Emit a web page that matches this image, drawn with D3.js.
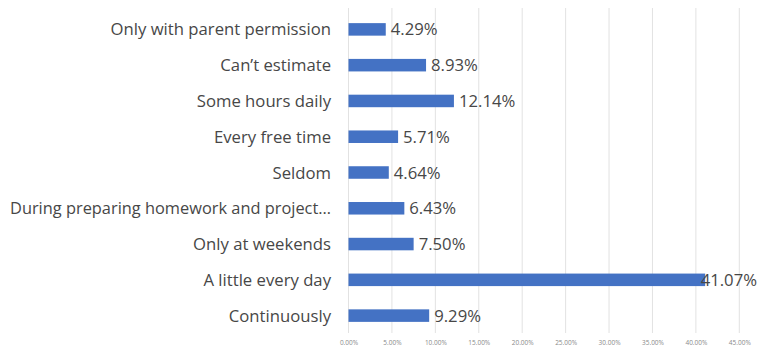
<!DOCTYPE html>
<html>
<head>
<meta charset="utf-8">
<script src="https://cdn.jsdelivr.net/npm/d3@7"></script>
<style>
  html, body { margin: 0; padding: 0; background: #fff; }
  svg { display: block; }
</style>
</head>
<body>
<svg id="chart" width="761" height="347"></svg>
<script>
// Categories top to bottom, with their shares in percent
const categories = [
  "Only with parent permission",
  "Can\u2019t estimate",
  "Some hours daily",
  "Every free time",
  "Seldom",
  "During preparing homework and project\u2026",
  "Only at weekends",
  "A little every day",
  "Continuously"
];
const values = [4.29, 8.93, 12.14, 5.71, 4.64, 6.43, 7.50, 41.07, 9.29];
const tickValues = [0, 5, 10, 15, 20, 25, 30, 35, 40, 45];

const svg = d3.select("#chart");
const margin = { left: 348.5, right: 21.7, top: 11.5, bottom: 13.5 };
const W = 761, H = 347;
const font = "Open Sans, sans-serif";
const labelSize = 16.7;
const textColor = "#474747";
const labelRight = 331;
const labelMaxWidth = 321;

const x = d3.scaleLinear().domain([0, 45]).range([margin.left, W - margin.right]);
const y = d3.scaleBand().domain(categories).range([margin.top, H - margin.bottom]).paddingInner(0.65).paddingOuter(0.325);

// vertical gridlines
svg.append("g")
  .selectAll("line")
  .data(tickValues)
  .join("line")
  .attr("x1", d => x(d)).attr("x2", d => x(d))
  .attr("y1", 8).attr("y2", 333)
  .attr("stroke", "#e2e2e2")
  .attr("stroke-width", 1);

// bottom axis tick labels
const xAxis = d3.axisBottom(x).tickValues(tickValues).tickSize(0).tickFormat(d => d.toFixed(2) + "%");
const ax = svg.append("g").attr("transform", `translate(0,${337})`).call(xAxis);
ax.select(".domain").remove();
ax.selectAll("text")
  .attr("fill", "#8a8a8a")
  .attr("font-family", font)
  .attr("font-size", 6.5);

// bars
svg.append("g")
  .selectAll("rect")
  .data(values)
  .join("rect")
  .attr("x", x(0))
  .attr("y", (d, i) => y(categories[i]))
  .attr("width", d => x(d) - x(0))
  .attr("height", y.bandwidth())
  .attr("fill", "#4472c4");

// value labels, kept inside the drawing area
svg.append("g")
  .selectAll("text")
  .data(values)
  .join("text")
  .attr("y", (d, i) => y(categories[i]) + y.bandwidth() / 2)
  .attr("dy", "0.36em")
  .attr("fill", textColor)
  .attr("font-family", font)
  .attr("font-size", labelSize)
  .text(d => d.toFixed(2) + "%")
  .attr("x", function (d) {
    const w = this.getComputedTextLength();
    return Math.min(x(d) + 5, W - 4 - w);
  });

// category labels, squeezed when longer than the label column
svg.append("g")
  .selectAll("text")
  .data(categories)
  .join("text")
  .attr("x", labelRight)
  .attr("y", d => y(d) + y.bandwidth() / 2)
  .attr("dy", "0.36em")
  .attr("text-anchor", "end")
  .attr("fill", textColor)
  .attr("font-family", font)
  .attr("font-size", labelSize)
  .text(d => d)
  .each(function () {
    if (this.getComputedTextLength() > labelMaxWidth) {
      d3.select(this).attr("textLength", labelMaxWidth).attr("lengthAdjust", "spacingAndGlyphs");
    }
  });
</script>
</body>
</html>
